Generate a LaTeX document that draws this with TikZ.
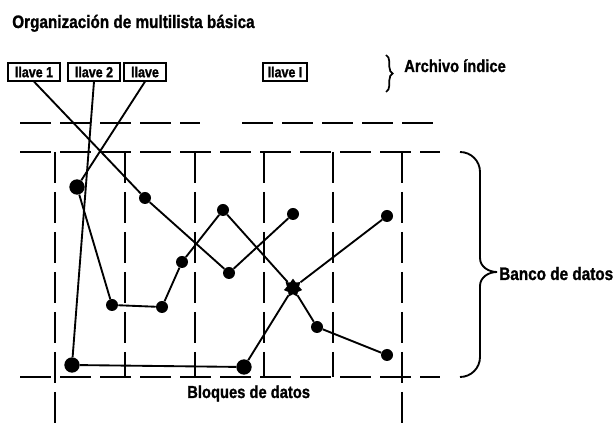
\documentclass[tikz,border=0pt]{standalone}
\usepackage{fontspec}
\setmainfont{Liberation Sans}
\newfontfamily\narrowsf[FakeStretch=0.85,FakeBold=1.2]{Liberation Sans}
\usetikzlibrary{shapes.geometric,decorations.pathreplacing}

\begin{document}
\begin{tikzpicture}[
  x=0.75pt, y=-0.75pt,
  rec/.style={circle, fill, inner sep=0pt, minimum size=9pt},
  bigrec/.style={rec, minimum size=11.5pt},
  hub/.style={star, star points=7, fill, inner sep=0pt, minimum size=14pt},
  keybox/.style={draw, line width=1.4pt, font=\narrowsf\bfseries\fontsize{11}{12}\selectfont, inner sep=0.8pt, minimum height=13pt},
  lbl/.style={font=\narrowsf\bfseries\fontsize{13}{15}\selectfont, inner sep=0pt},
  link/.style={line width=1.4pt},
  grid/.style={line width=1.5pt, dash pattern=on 23pt off 7pt}]
\useasboundingbox (0,0) rectangle (614,423);
% title
\node[lbl, font=\narrowsf\bfseries\fontsize{13.5}{15}\selectfont, anchor=base west] (title) at (12,28) {Organización de multilista básica};
% index file
\node[keybox, minimum width=39pt] (k1) at (34,72) {llave 1};
\node[keybox, minimum width=39pt] (k2) at (94,72) {llave 2};
\node[keybox, minimum width=31pt] (k3) at (145,72) {llave};
\node[keybox, minimum width=33pt] (kI) at (285,72) {llave I};
\draw[line width=1.3pt, decorate, decoration={brace, amplitude=5pt}] (386,55) -- (386,92);
\node[lbl, anchor=base west] (arch) at (404,72) {Archivo índice};
% grid of data blocks
\draw[grid] (20,123) -- (200,123);
\draw[grid] (242,123) -- (440,123);
\draw[grid] (20,152) -- (440,152);
\draw[grid] (20,377) -- (440,377);
\foreach \x in {125,195,264,333} \draw[grid] (\x,152) -- (\x,377);
\foreach \x in {55,402} \draw[grid] (\x,152) -- (\x,423);
% records
\node[bigrec] (a) at (77,187) {};
\node[rec]    (b) at (145,198) {};
\node[rec]    (c) at (223,210) {};
\node[rec]    (d) at (293,214) {};
\node[rec]    (e) at (182,262) {};
\node[rec]    (f) at (229,273) {};
\node[hub]    (g) at (293,288) {};
\node[rec]    (h) at (112,305) {};
\node[rec]    (i) at (162,307) {};
\node[bigrec] (j) at (72,365) {};
\node[bigrec] (k) at (244,367) {};
\node[rec]    (l) at (387,216) {};
\node[rec]    (m) at (317,327) {};
\node[rec]    (n) at (387,355) {};
% lists
\draw[link] (k1.south) -- (b) -- (f) -- (d);
\draw[link] (k2.south) -- (j) -- (k) -- (g) -- (l);
\draw[link] (k3.south) -- (a) -- (h) -- (i) -- (e) -- (c) -- (g) -- (m) -- (n);
% data bank
\draw[line width=1.4pt] (460,152) to[out=0,in=90] (480,172) -- (480,258) to[out=-90,in=180] (497,272)
  to[out=180,in=90] (480,286) -- (480,357) to[out=-90,in=0] (460,377);
\node[lbl, font=\narrowsf\bfseries\fontsize{13.5}{15}\selectfont, anchor=base west] (banco) at (499,280) {Banco de datos};
\node[lbl, anchor=base west] (bloq) at (187,398) {Bloques de datos};
\end{tikzpicture}
\end{document}
